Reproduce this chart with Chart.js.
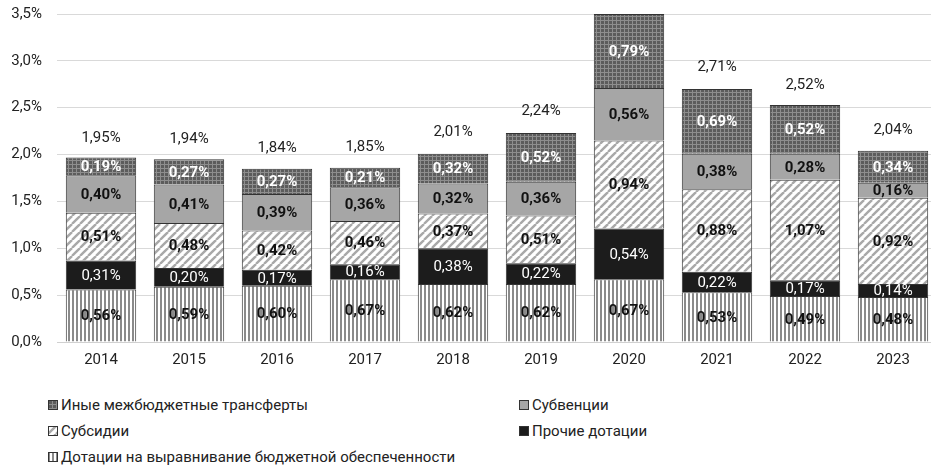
<!DOCTYPE html>
<html>
<head>
<meta charset="utf-8">
<script src="https://cdn.jsdelivr.net/npm/chart.js@4/dist/chart.umd.min.js"></script>
<style>
  html, body { margin: 0; padding: 0; background: #fff; overflow: hidden; }
  body { width: 931px; height: 468px; font-family: Roboto, sans-serif; }
  #wrap { position: absolute; left: 0; top: 0; width: 937px; height: 380px; }
  #legend { position: absolute; left: 48px; top: 396px; width: 880px; font-size: 15px; color: #222; }
  .item { position: absolute; display: flex; align-items: center; white-space: nowrap; }
  .item canvas { width: 10px; height: 10px; margin-right: 3px; }
</style>
</head>
<body>
<div id="wrap"><canvas id="grafica"></canvas></div>
<div id="legend"></div>
<script>
const years = ['2014', '2015', '2016', '2017', '2018', '2019', '2020', '2021', '2022', '2023'];

// bottom to top
const dotVyr   = [0.56, 0.59, 0.60, 0.67, 0.62, 0.62, 0.67, 0.53, 0.49, 0.48];
const dotProch = [0.31, 0.20, 0.17, 0.16, 0.38, 0.22, 0.54, 0.22, 0.17, 0.14];
const subsid   = [0.51, 0.48, 0.42, 0.46, 0.37, 0.51, 0.94, 0.88, 1.07, 0.92];
const subvenc  = [0.40, 0.41, 0.39, 0.36, 0.32, 0.36, 0.56, 0.38, 0.28, 0.16];
const inye     = [0.19, 0.27, 0.27, 0.21, 0.32, 0.52, 0.79, 0.69, 0.52, 0.34];
const totals   = [1.95, 1.94, 1.84, 1.85, 2.01, 2.24, 3.50, 2.71, 2.52, 2.04];

const yTicks = [0, 0.5, 1, 1.5, 2, 2.5, 3, 3.5];

const FONT = 'Roboto, sans-serif';

function tile(w, h, paint) {
  const c = document.createElement('canvas');
  c.width = w; c.height = h;
  paint(c.getContext('2d'), w, h);
  return c;
}

const tiles = {
  vstripe: tile(4, 4, (g, w, h) => {
    g.fillStyle = '#fff'; g.fillRect(0, 0, w, h);
    g.fillStyle = '#8a8a8a'; g.fillRect(0, 0, 2, h);
  }),
  diag: tile(8, 8, (g, w, h) => {
    g.fillStyle = '#fff'; g.fillRect(0, 0, w, h);
    g.strokeStyle = '#a8a8a8'; g.lineWidth = 2.4;
    for (const o of [-8, 0, 8]) {
      g.beginPath(); g.moveTo(o, h); g.lineTo(o + w, 0); g.stroke();
    }
  }),
  grid: tile(4, 4, (g, w, h) => {
    g.fillStyle = '#5c5c5c'; g.fillRect(0, 0, w, h);
    g.fillStyle = '#8e8e8e'; g.fillRect(0, 0, w, 1); g.fillRect(0, 0, 1, h);
  })
};

const ctx = document.querySelector('#grafica').getContext('2d');
function fillOf(g, kind) {
  if (kind === 'black') return '#1c1c1c';
  if (kind === 'gray') return '#a6a6a6';
  return g.createPattern(tiles[kind], 'repeat');
}

const series = [
  {label: 'Дотации на выравнивание бюджетной обеспеченности', data: dotVyr, kind: 'vstripe', txt: '#111', bold: true},
  {label: 'Прочие дотации', data: dotProch, kind: 'black', txt: '#fff', bold: false},
  {label: 'Субсидии', data: subsid, kind: 'diag', txt: '#111', bold: true},
  {label: 'Субвенции', data: subvenc, kind: 'gray', txt: '#111', bold: true},
  {label: 'Иные межбюджетные трансферты', data: inye, kind: 'grid', txt: '#fff', bold: true}
];

const fmt = v => v.toFixed(2).replace('.', ',') + '%';

const labelPlugin = {
  id: 'labels',
  afterDatasetsDraw(chart) {
    const g = chart.ctx;
    const yScale = chart.scales.y;
    g.save();
    g.textAlign = 'center';
    g.textBaseline = 'middle';
    series.forEach((s, i) => {
      chart.getDatasetMeta(i).data.forEach((bar, j) => {
        const top = Math.max(bar.y, chart.chartArea.top);
        const y = (top + bar.base) / 2;
        g.font = (s.bold ? 'bold ' : '') + '15px ' + FONT;
        g.fillStyle = s.txt;
        g.fillText(fmt(s.data[j]), bar.x, y + 1);
      });
    });
    const meta = chart.getDatasetMeta(0);
    g.font = '15px ' + FONT;
    g.fillStyle = '#222';
    totals.forEach((t, j) => {
      if (t >= yScale.max) return; // bar reaches the top of the axis, label is cut off
      g.fillText(fmt(t), meta.data[j].x, yScale.getPixelForValue(t) - 21);
    });
    g.restore();
  }
};

new Chart(ctx, {
  type: 'bar',
  data: {
    labels: years,
    datasets: series.map(s => ({
      label: s.label,
      data: s.data,
      backgroundColor: fillOf(ctx, s.kind),
      borderColor: '#333',
      borderWidth: 1,
      barPercentage: 0.8,
      categoryPercentage: 1
    }))
  },
  options: {
    responsive: true,
    maintainAspectRatio: false,
    animation: false,
    layout: {padding: {top: 14, left: 0, right: 0, bottom: 2}},
    plugins: {legend: {display: false}, tooltip: {enabled: false}},
    scales: {
      x: {
        stacked: true,
        grid: {display: false, drawTicks: false},
        border: {color: '#d0d0d0'},
        ticks: {color: '#222', font: {family: FONT, size: 15}, padding: 9}
      },
      y: {
        stacked: true,
        min: 0, max: 3.5,
        afterBuildTicks: sc => { sc.ticks = yTicks.map(v => ({value: v})); },
        afterFit: sc => { sc.width = 57; sc.paddingTop = 0; },
        grid: {color: '#d9d9d9', drawTicks: false},
        border: {display: false},
        ticks: {
          color: '#222', font: {family: FONT, size: 15}, padding: 15,
          callback: v => v.toFixed(1).replace('.', ',') + '%'
        }
      }
    }
  },
  plugins: [labelPlugin]
});

// legend: two columns, reverse order of stacking
const legendOrder = [4, 3, 2, 1, 0];
const leg = document.getElementById('legend');
legendOrder.forEach((idx, k) => {
  const s = series[idx];
  const it = document.createElement('div');
  it.className = 'item';
  it.style.left = (k % 2 ? 471 : 0) + 'px';
  it.style.top = (Math.floor(k / 2) * 26) + 'px';
  const sw = document.createElement('canvas');
  sw.width = 10; sw.height = 10;
  const g = sw.getContext('2d');
  g.fillStyle = fillOf(g, s.kind);
  g.fillRect(0, 0, 10, 10);
  g.strokeStyle = '#333'; g.lineWidth = 1; g.strokeRect(0.5, 0.5, 9, 9);
  it.appendChild(sw);
  const tx = document.createElement('span');
  tx.textContent = s.label;
  it.appendChild(tx);
  leg.appendChild(it);
});
</script>
</body>
</html>
